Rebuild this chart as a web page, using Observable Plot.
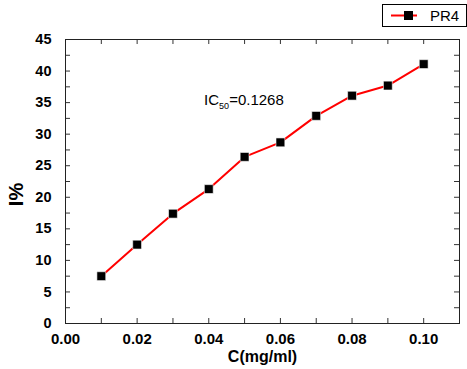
<!DOCTYPE html>
<html><head><meta charset="utf-8">
<script src="https://cdn.jsdelivr.net/npm/d3@7"></script>
<script src="https://cdn.jsdelivr.net/npm/@observablehq/plot@0.6"></script>
<style>
body{margin:0;background:#fff}
#wrap{position:relative;width:467px;height:369px;font-family:"Liberation Sans",Arial,sans-serif}
#legend{position:absolute;left:382px;top:4px;width:85px;height:23px;box-sizing:border-box;border:1px solid #000;background:#fff}
#legend svg{display:block}
</style></head><body><div id="wrap"><div id="legend"></div></div>
<script>
const conc = [0.01, 0.02, 0.03, 0.04, 0.05, 0.06, 0.07, 0.08, 0.09, 0.10];
const inhibition = [7.5, 12.5, 17.4, 21.3, 26.4, 28.7, 32.9, 36.1, 37.7, 41.1];
const seriesName = "PR4";
const xTickLabels = [0, 0.02, 0.04, 0.06, 0.08, 0.10];
const xTicksMinor = [0, 0.01, 0.02, 0.03, 0.04, 0.05, 0.06, 0.07, 0.08, 0.09, 0.10, 0.11];
const yTickLabels = [0, 5, 10, 15, 20, 25, 30, 35, 40, 45];
const yTicksMinor = [0, 2.5, 5, 7.5, 10, 12.5, 15, 17.5, 20, 22.5, 25, 27.5, 30, 32.5, 35, 37.5, 40, 42.5, 45];
const xLabel = "C(mg/ml)";
const yLabel = "I%";
const annotation = {x: 0.0387, y: 35.4, text: "IC50=0.1268"};

const data = conc.map((c, i) => ({c, v: inhibition[i]}));
const bold = {fontWeight: "bold", fill: "#000"};
const W = 467, H = 369, mT = 39, mB = 46, mL = 65, mR = 8;
const innerW = W - mL - mR, innerH = H - mT - mB, tk = 5;

const plot = Plot.plot({
  width: W, height: H,
  marginTop: mT, marginBottom: mB, marginLeft: mL, marginRight: mR,
  x: {domain: [0, 0.11]},
  y: {domain: [0, 45]},
  style: {fontFamily: "'Liberation Sans', Arial, sans-serif", background: "#fff", overflow: "visible"},
  marks: [
    Plot.tickX(xTicksMinor, {x: d => d, insetTop: innerH - tk, stroke: "#333"}),
    Plot.tickX(xTicksMinor, {x: d => d, insetBottom: innerH - tk, stroke: "#333"}),
    Plot.tickY(yTicksMinor, {y: d => d, insetRight: innerW - tk, stroke: "#333"}),
    Plot.tickY(yTicksMinor, {y: d => d, insetLeft: innerW - tk, stroke: "#333"}),
    Plot.axisX(xTickLabels, {anchor: "bottom", tickSize: 0, tickPadding: 10, tickFormat: d3.format(".2f"), fontSize: 15, label: null, ...bold}),
    Plot.axisY(yTickLabels, {anchor: "left", tickSize: 0, tickPadding: 14, fontSize: 14.5, label: null, ...bold}),
    Plot.frame({stroke: "#222", strokeWidth: 1}),
    Plot.text([xLabel], {text: d => d, frameAnchor: "bottom", lineAnchor: "middle", dy: 33, fontSize: 16, ...bold}),
    Plot.text([yLabel], {text: d => d, frameAnchor: "left", textAnchor: "middle", lineAnchor: "middle", rotate: -90, dx: -49, dy: 13, fontSize: 20, ...bold}),
    Plot.line(data, {x: "c", y: "v", stroke: "#ff0000", strokeWidth: 2}),
    Plot.dot(data, {x: "c", y: "v", symbol: "square", r: 5, fill: "#000", stroke: "#fff", strokeWidth: 0.6}),
    Plot.text([annotation], {x: "x", y: "y", text: "text", textAnchor: "start", fontSize: 15, fill: "#000", className: "ic50"})
  ]
});

// subscript for IC50 annotation
d3.select(plot).selectAll(".ic50 text").each(function() {
  const t = d3.select(this);
  t.text(null);
  t.append("tspan").text("IC");
  t.append("tspan").attr("font-size", 9).attr("dy", 4).text("50");
  t.append("tspan").attr("dy", -4).text("=0.1268");
});

document.getElementById("wrap").prepend(plot);

// legend
const lg = d3.select("#legend").append("svg").attr("width", 83).attr("height", 21);
lg.append("line").attr("x1", 8).attr("x2", 34).attr("y1", 10.5).attr("y2", 10.5).attr("stroke", "#ff0000").attr("stroke-width", 2);
lg.append("rect").attr("x", 21).attr("y", 6).attr("width", 9).attr("height", 9).attr("fill", "#000");
lg.append("text").attr("x", 47).attr("y", 16).attr("font-size", 15).attr("font-family", "'Liberation Sans', Arial, sans-serif").text(seriesName);
</script></body></html>
